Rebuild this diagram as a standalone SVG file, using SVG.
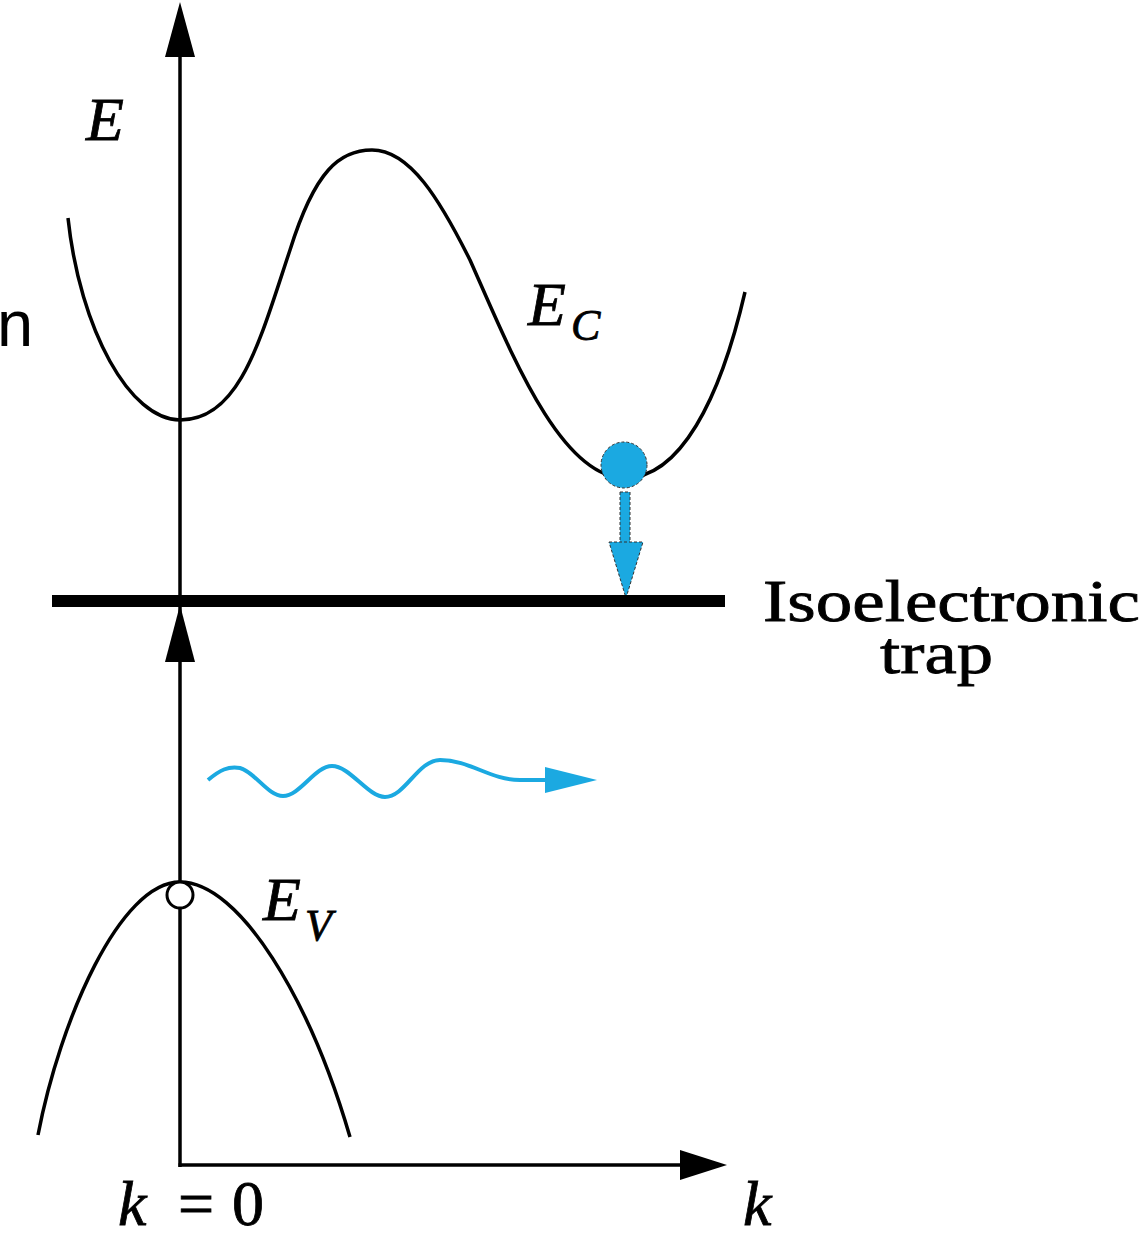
<svg xmlns="http://www.w3.org/2000/svg" width="1140" height="1240" viewBox="0 0 1140 1240">
<style>
.ln{fill:none;stroke:#000;stroke-width:3.5}
.bl{fill:#1ba9e1}
.t{font-family:"Liberation Serif",serif;fill:#000;stroke:#000;stroke-width:0.8}
.it{font-style:italic}
</style>
<rect width="1140" height="1240" fill="#fff"/>
<g id="connectors">
<line class="ln" x1="180" y1="1167" x2="180" y2="40"/>
<polygon points="180,2 165,57 195,57" fill="#000"/>
<polygon points="180,605 165,662 195,662" fill="#000"/>
<line class="ln" x1="178.5" y1="1165" x2="690" y2="1165"/>
<polygon points="727,1165 680,1150 680,1180" fill="#000"/>
<path d="M208,780 C220,770 228,766 240,768 C255,772 268,796 283,796 C300,796 315,766 332,766 C350,766 368,797 385,797 C405,797 418,760 440,760 C470,760 490,780 520,780 L548,780" fill="none" stroke="#1ba9e1" stroke-width="4"/>
<polygon class="bl" points="545,767 597,780 545,793"/>
<rect class="bl" x="620" y="492" width="10" height="54" stroke="#333" stroke-width="1" stroke-dasharray="3 2"/>
<polygon class="bl" points="609,542 643,542 626,598" stroke="#333" stroke-width="1" stroke-dasharray="3 2"/>
</g>
<g id="conduction-band">
<path class="ln" d="M68,218 C80,330 130,420 180,420 C240,420 260,340 290,250 C315,170 340,150 372,150 C410,150 440,200 470,260 C510,350 560,478 625,478 C680,478 720,400 745,292"/>
</g>
<g id="valence-band">
<path class="ln" d="M38,1135 C60,1020 120,882 180,882 C240,882 310,1000 350,1137"/>
</g>
<g id="trap">
<line x1="52" y1="601" x2="725" y2="601" stroke="#000" stroke-width="12"/>
</g>
<g id="electron">
<circle class="bl" cx="624" cy="465" r="23" stroke="#333" stroke-width="1" stroke-dasharray="3 2"/>
</g>
<g id="hole">
<circle cx="180" cy="895" r="13" fill="#fff" stroke="#000" stroke-width="3"/>
</g>
<g id="labels">
<text class="t it" x="86" y="140" font-size="62">E</text>
<text class="t it" x="528" y="325" font-size="62">E</text>
<text class="t it" x="571" y="340" font-size="44">C</text>
<text class="t it" x="263" y="920" font-size="62">E</text>
<text class="t it" x="305" y="940" font-size="44">V</text>
<text class="t" x="763" y="621" font-size="60" textLength="377" lengthAdjust="spacingAndGlyphs">Isoelectronic</text>
<text class="t" x="880" y="673" font-size="60" textLength="113" lengthAdjust="spacingAndGlyphs">trap</text>
<text class="t" y="1225" font-size="64"><tspan class="it" x="118">k</tspan><tspan x="178">=</tspan><tspan x="232">0</tspan></text>
<text class="t it" x="743" y="1225" font-size="64">k</text>
<text x="-3" y="346" font-family="Liberation Sans,sans-serif" font-size="65">n</text>
</g>
</svg>
